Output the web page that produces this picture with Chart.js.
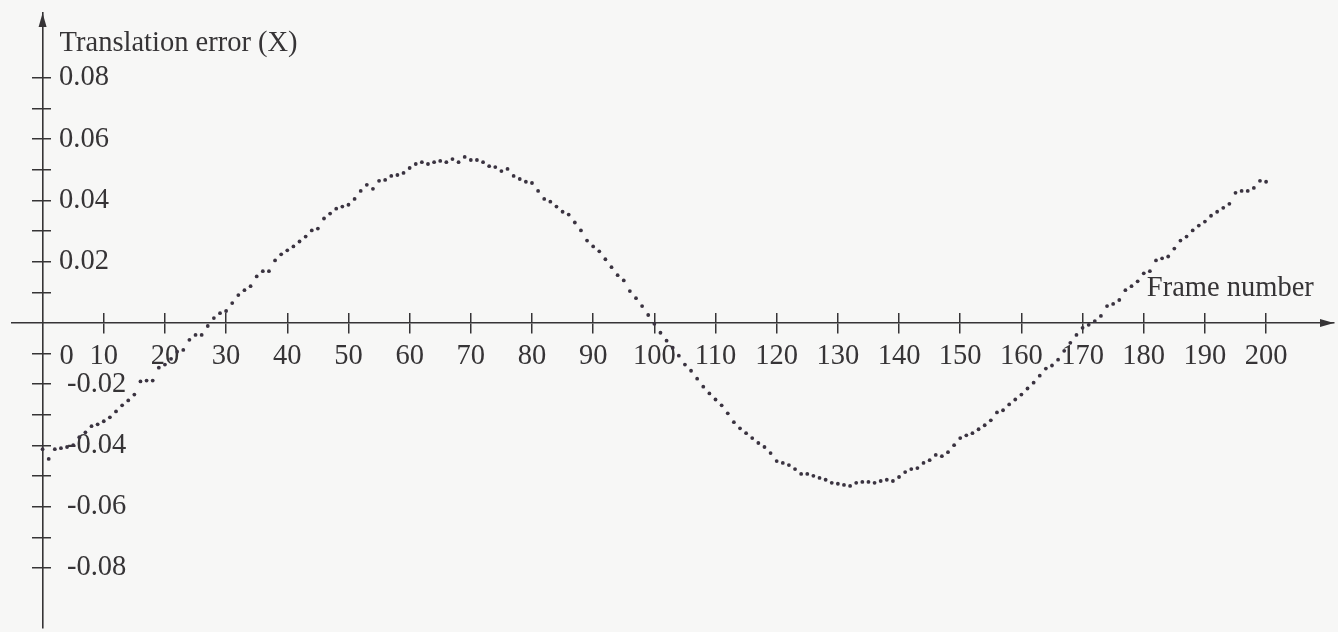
<!DOCTYPE html>
<html>
<head>
<meta charset="utf-8">
<title>Translation error (X)</title>
<script src="https://cdn.jsdelivr.net/npm/chart.js@4.4.1/dist/chart.umd.min.js"></script>
<style>
  html, body { margin: 0; padding: 0; background: #f7f7f6; }
  #wrap { width: 1338px; height: 632px; }
</style>
</head>
<body>
<div id="wrap"><canvas id="errChart" width="1338" height="632"></canvas></div>
<script>
// Translation error in X, one sample per frame (frames 0..200)
const errorX = [
  -0.0412, -0.0444, -0.0412, -0.0409, -0.0405, -0.0399, -0.0373, -0.0357, -0.0337, -0.0331,
  -0.0321, -0.0308, -0.0289, -0.0269, -0.0253, -0.0234, -0.0191, -0.0188, -0.0188, -0.0146,
  -0.0136, -0.0117, -0.0094, -0.0088, -0.0055, -0.0039, -0.0039, -0.0010, 0.0016, 0.0032,
  0.0039, 0.0065, 0.0091, 0.0107, 0.0120, 0.0152, 0.0169, 0.0169, 0.0204, 0.0224,
  0.0237, 0.0250, 0.0266, 0.0282, 0.0302, 0.0308, 0.0341, 0.0357, 0.0373, 0.0380,
  0.0386, 0.0405, 0.0431, 0.0451, 0.0438, 0.0464, 0.0467, 0.0480, 0.0483, 0.0490,
  0.0506, 0.0519, 0.0525, 0.0519, 0.0525, 0.0529, 0.0525, 0.0535, 0.0525, 0.0542,
  0.0532, 0.0532, 0.0525, 0.0512, 0.0509, 0.0496, 0.0503, 0.0480, 0.0470, 0.0461,
  0.0457, 0.0431, 0.0405, 0.0396, 0.0380, 0.0363, 0.0354, 0.0328, 0.0302, 0.0269,
  0.0250, 0.0234, 0.0208, 0.0182, 0.0156, 0.0139, 0.0104, 0.0081, 0.0055, 0.0026,
  -0.0003, -0.0032, -0.0058, -0.0081, -0.0107, -0.0136, -0.0156, -0.0182, -0.0208, -0.0230,
  -0.0250, -0.0269, -0.0295, -0.0324, -0.0344, -0.0360, -0.0376, -0.0392, -0.0405, -0.0425,
  -0.0451, -0.0457, -0.0464, -0.0477, -0.0493, -0.0493, -0.0499, -0.0506, -0.0512, -0.0522,
  -0.0525, -0.0529, -0.0532, -0.0522, -0.0519, -0.0519, -0.0522, -0.0516, -0.0512, -0.0516,
  -0.0503, -0.0487, -0.0477, -0.0474, -0.0457, -0.0448, -0.0431, -0.0435, -0.0422, -0.0399,
  -0.0376, -0.0367, -0.0360, -0.0347, -0.0334, -0.0318, -0.0292, -0.0285, -0.0266, -0.0250,
  -0.0234, -0.0214, -0.0195, -0.0172, -0.0149, -0.0139, -0.0120, -0.0091, -0.0065, -0.0039,
  -0.0016, -0.0006, 0.0006, 0.0023, 0.0055, 0.0062, 0.0075, 0.0107, 0.0120, 0.0136,
  0.0162, 0.0169, 0.0204, 0.0211, 0.0217, 0.0243, 0.0269, 0.0282, 0.0302, 0.0318,
  0.0331, 0.0350, 0.0363, 0.0376, 0.0389, 0.0425, 0.0431, 0.0431, 0.0441, 0.0464,
  0.0461
];
const frames = errorX.map((_, i) => i); // frame number of each sample

const xTicks = [10, 20, 30, 40, 50, 60, 70, 80, 90, 100, 110, 120, 130, 140, 150, 160, 170, 180, 190, 200];
const xZeroTick = [0];
const yTicks = [-0.08, -0.07, -0.06, -0.05, -0.04, -0.03, -0.02, -0.01, 0.01, 0.02, 0.03, 0.04, 0.05, 0.06, 0.07, 0.08];
const yPosLabels = [0.02, 0.04, 0.06, 0.08];
const yNegLabels = [-0.02, -0.04, -0.06, -0.08];
const yTitle = 'Translation error (X)';
const xTitle = 'Frame number';

const ink = '#363436';
const dotInk = '#3a3340';
const serif = "'Liberation Serif', 'Times New Roman', serif";
const tickFont = { family: serif, size: 28.5 };

const xRange = { min: -5, max: 211.1 };
const yRange = { min: -0.0996, max: 0.1012 };

const setTicks = list => scale => { scale.ticks = list.map(value => ({ value })); };
// axes sit on the zero lines, so they must not eat any layout room
const noRoom = scale => {
    if (scale.isHorizontal()) scale.height = 0; else scale.width = 0;
    scale.paddingTop = scale.paddingBottom = scale.paddingLeft = scale.paddingRight = 0;
};

// axis arrows and the two axis captions
const decor = {
    id: 'decor',
    afterDraw(chart) {
        const { ctx, chartArea, scales: { x, y } } = chart;
        const x0 = x.getPixelForValue(0);
        const y0 = y.getPixelForValue(0);
        ctx.save();
        ctx.fillStyle = ink;
        ctx.beginPath();
        ctx.moveTo(x0, chartArea.top);
        ctx.lineTo(x0 - 4, chartArea.top + 14);
        ctx.lineTo(x0 + 4, chartArea.top + 14);
        ctx.closePath();
        ctx.fill();
        ctx.beginPath();
        ctx.moveTo(chartArea.right, y0);
        ctx.lineTo(chartArea.right - 14, y0 - 4);
        ctx.lineTo(chartArea.right - 14, y0 + 4);
        ctx.closePath();
        ctx.fill();

        ctx.font = `28.5px ${serif}`;
        ctx.textBaseline = 'middle';
        ctx.textAlign = 'left';
        ctx.fillText(yTitle, x0 + 17, y.getPixelForValue(0.0912));
        ctx.fillText(xTitle, x.getPixelForValue(180.5), y.getPixelForValue(0.0112));
        ctx.restore();
    }
};

new Chart(document.getElementById('errChart'), {
    type: 'scatter',
    data: {
        datasets: [{
            label: yTitle,
            data: frames.map((f, i) => ({ x: f, y: errorX[i] })),
            xAxisID: 'x',
            yAxisID: 'y',
            showLine: false,
            pointRadius: 1.9,
            pointBorderWidth: 0,
            pointBackgroundColor: dotInk,
            pointBorderColor: dotInk
        }]
    },
    options: {
        responsive: false,
        animation: false,
        events: [],
        layout: { padding: { left: 12, top: 13, right: 0, bottom: 0 } },
        plugins: { legend: { display: false }, tooltip: { enabled: false } },
        scales: {
            x: {
                type: 'linear', ...xRange,
                position: { y: 0 },
                afterBuildTicks: setTicks(xTicks),
                afterFit: noRoom,
                border: { display: true, color: ink, width: 1.6 },
                grid: { drawOnChartArea: false, drawTicks: true, tickLength: 10, color: ink, lineWidth: 1.5 },
                ticks: { padding: 6, font: tickFont, color: ink, autoSkip: false, maxRotation: 0 }
            },
            xUp: {
                type: 'linear', ...xRange,
                position: { y: 0 },
                afterBuildTicks: setTicks(xTicks),
                afterFit: noRoom,
                border: { display: false },
                grid: { drawOnChartArea: false, drawTicks: true, tickLength: -10, color: ink, lineWidth: 1.5 },
                ticks: { display: false }
            },
            xZero: {
                type: 'linear', ...xRange,
                position: { y: 0 },
                afterBuildTicks: setTicks(xZeroTick),
                afterFit: noRoom,
                border: { display: false },
                grid: { display: false, drawTicks: true, tickLength: 10 },
                ticks: { padding: 6, labelOffset: 24, font: tickFont, color: ink, autoSkip: false, maxRotation: 0 }
            },
            y: {
                type: 'linear', ...yRange,
                position: { x: 0 },
                afterBuildTicks: setTicks(yTicks),
                afterFit: noRoom,
                border: { display: true, color: ink, width: 1.6 },
                grid: { drawOnChartArea: false, drawTicks: true, tickLength: 10, color: ink, lineWidth: 1.5 },
                ticks: { display: false }
            },
            yRight: {
                type: 'linear', ...yRange,
                position: { x: 0 },
                afterBuildTicks: setTicks(yTicks),
                afterFit: noRoom,
                border: { display: false },
                grid: { drawOnChartArea: false, drawTicks: true, tickLength: -8, color: ink, lineWidth: 1.5 },
                ticks: { display: false }
            },
            yPos: {
                type: 'linear', ...yRange,
                position: 'left',
                afterBuildTicks: setTicks(yPosLabels),
                afterFit: noRoom,
                border: { display: false },
                grid: { display: false },
                ticks: { mirror: true, padding: 47, font: tickFont, color: ink, autoSkip: false,
                         callback: v => v.toFixed(2) }
            },
            yNeg: {
                type: 'linear', ...yRange,
                position: 'left',
                afterBuildTicks: setTicks(yNegLabels),
                afterFit: noRoom,
                border: { display: false },
                grid: { display: false },
                ticks: { mirror: true, padding: 55, font: tickFont, color: ink, autoSkip: false,
                         callback: v => v.toFixed(2) }
            }
        }
    },
    plugins: [decor]
});
</script>
</body>
</html>
